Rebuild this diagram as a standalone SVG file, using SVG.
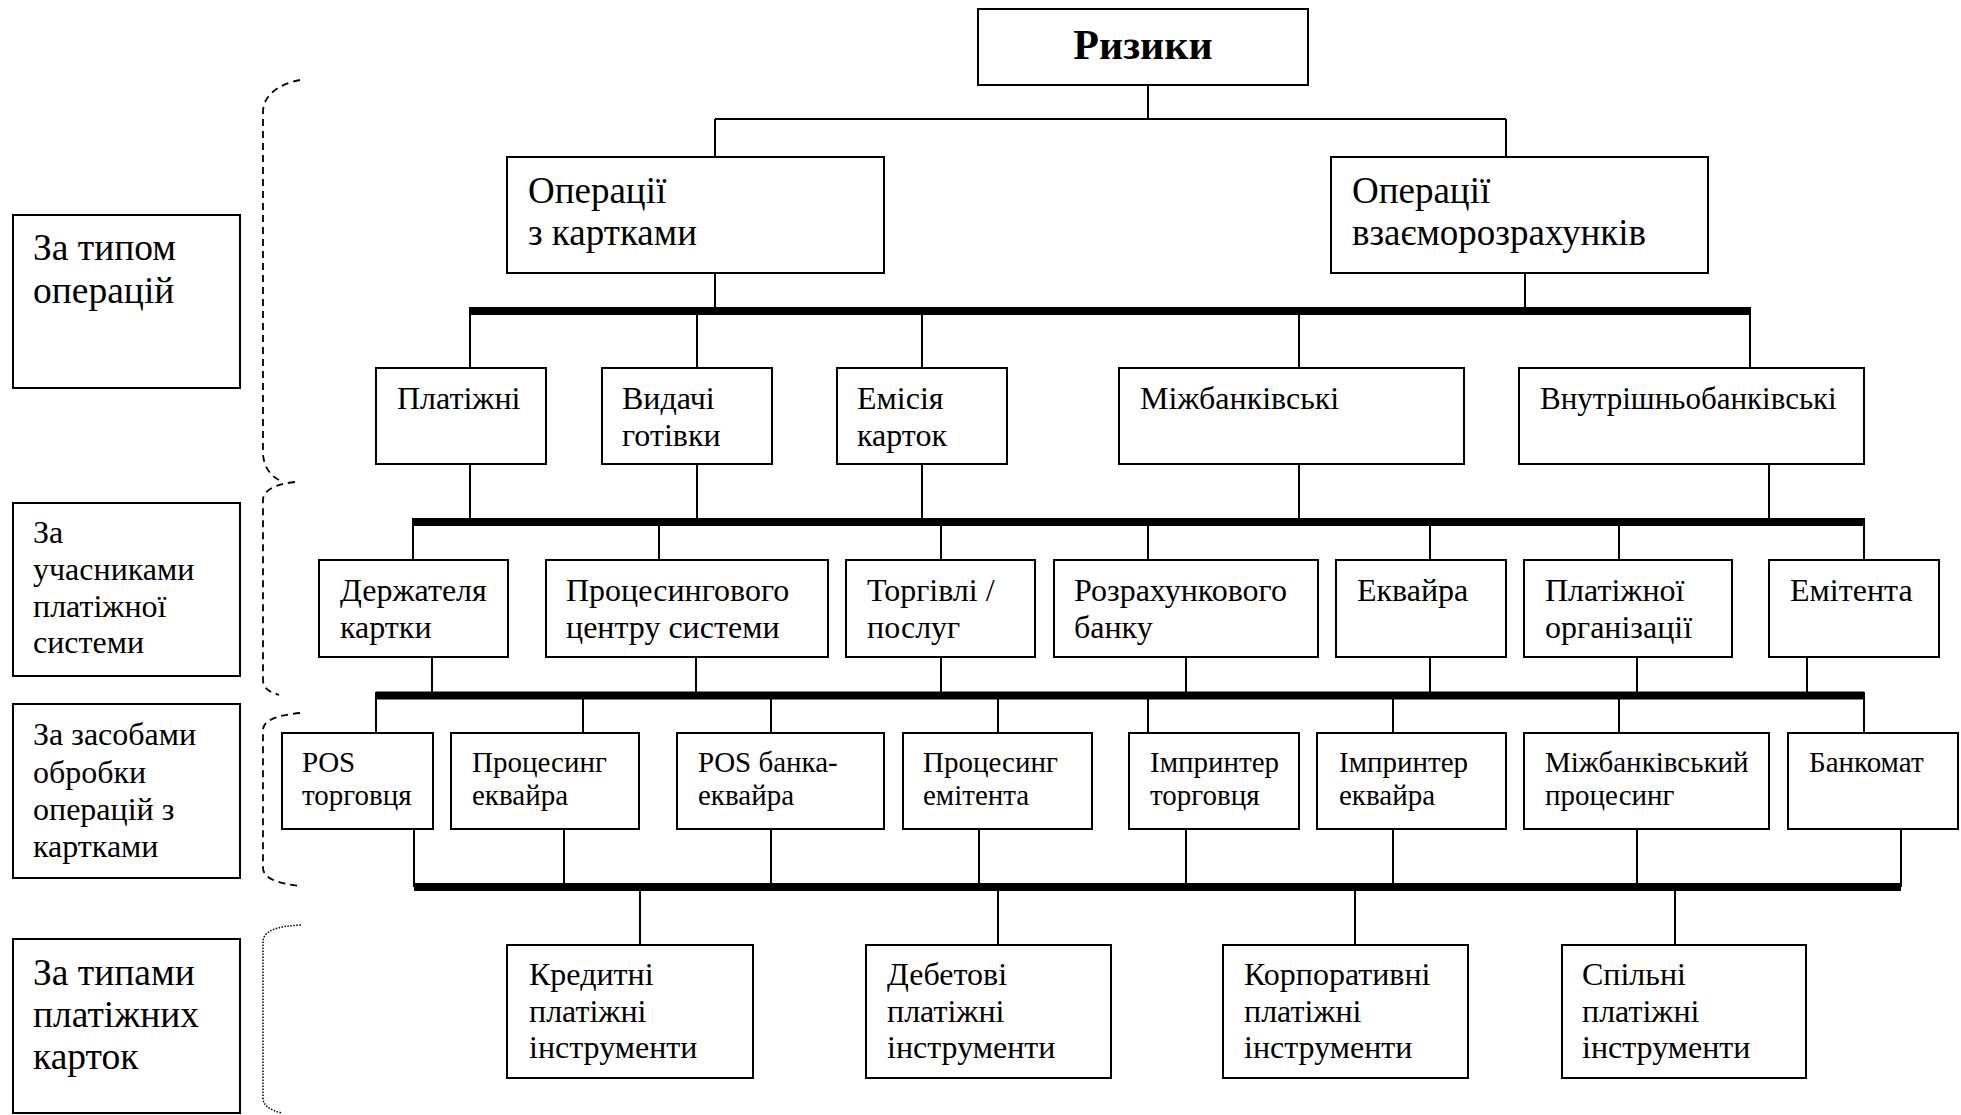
<svg xmlns="http://www.w3.org/2000/svg" width="1961" height="1115" viewBox="0 0 1961 1115">
<style>
text{font-family:"Liberation Serif","Times New Roman",serif;fill:#000}
.box{fill:#fff;stroke:#000;stroke-width:2}
.ln{stroke:#000;stroke-width:2;fill:none}
.bar{stroke:#000;stroke-width:8;fill:none}
.brace{stroke:#000;stroke-width:1.8;fill:none;stroke-dasharray:7 5}
.dot{stroke:#000;stroke-width:1.5;fill:none;stroke-dasharray:1.5 1.5}
.f42{font-size:42px;font-weight:bold}
.f37{font-size:37px}
.f36{font-size:37.5px}
.f32{font-size:32px}
.f29{font-size:29px}
</style>
<rect width="1961" height="1115" fill="#fff"/>
<g id="connectors">
<path class="ln" d="M1148 85V119M715 119H1506M715 119V157M1506 119V157"/>
<path class="ln" d="M715 273V311M1525 273V311"/>
<path class="bar" d="M470 311H1750"/>
<path class="ln" d="M470 307V368M697 311V368M922 311V368M1299 311V368M1750 307V368"/>
<path class="ln" d="M470 464V522M697 464V522M922 464V522M1299 464V522M1769 464V522"/>
<path class="bar" d="M413 522H1864"/>
<path class="ln" d="M413 518V560M659 522V560M941 522V560M1148 522V560M1430 522V560M1619 522V560M1864 518V560"/>
<path class="ln" d="M432 657V695M696 657V695M941 657V695M1186 657V695M1430 657V695M1637 657V695M1807 657V695"/>
<path class="bar" d="M376 695.5H1864"/>
<path class="ln" d="M376 692V733M583 695V733M771 695V733M998 695V733M1148 695V733M1393 695V733M1619 695V733M1864 692V733"/>
<path class="ln" d="M414 829V887M564 829V887M771 829V887M979 829V887M1186 829V887M1393 829V887M1637 829V887M1901 829V887"/>
<path class="bar" d="M414 887H1901"/>
<path class="ln" d="M640 887V945M998 887V945M1355 887V945M1675 887V945"/>
</g>
<g id="braces">
<path class="brace" d="M300 80C278 84 263 96 263 112V452C263 466 270 476 281 481"/>
<path class="brace" d="M295 482C276 484 263 490 263 500V680C263 688 269 692 279 695"/>
<path class="brace" d="M300 713C278 715 263 720 263 730V868C263 878 278 884 301 886"/>
<path class="dot" d="M301 925C279 926 263 930 263 942V1098C263 1106 270 1110 282 1113"/>
</g>
<g id="n-risks"><rect class="box" x="978" y="9" width="330" height="76"/><text class="f42" x="1143" y="59" text-anchor="middle">Ризики</text></g>
<g id="n-opcards"><rect class="box" x="507" y="157" width="377" height="116"/><text class="f37" x="528" y="203">Операції</text><text class="f37" x="528" y="245">з картками</text></g>
<g id="n-opsettle"><rect class="box" x="1331" y="157" width="377" height="116"/><text class="f37" x="1352" y="203">Операції</text><text class="f37" x="1352" y="245">взаєморозрахунків</text></g>
<g id="l-type"><rect class="box" x="13" y="215" width="227" height="173"/><text class="f36" x="33" y="260">За типом</text><text class="f36" x="33" y="303">операцій</text></g>
<g id="l-participants"><rect class="box" x="13" y="503" width="227" height="173"/><text class="f32" x="33" y="543">За</text><text class="f32" x="33" y="580">учасниками</text><text class="f32" x="33" y="617">платіжної</text><text class="f32" x="33" y="653">системи</text></g>
<g id="l-means"><rect class="box" x="13" y="704" width="227" height="174"/><text class="f32" x="33" y="745">За засобами</text><text class="f32" x="33" y="783">обробки</text><text class="f32" x="33" y="820">операцій з</text><text class="f32" x="33" y="857">картками</text></g>
<g id="l-cardtypes"><rect class="box" x="13" y="939" width="227" height="174"/><text class="f36" x="33" y="985">За типами</text><text class="f36" x="33" y="1027">платіжних</text><text class="f36" x="33" y="1069">карток</text></g>
<g id="r1-pay"><rect class="box" x="376" y="368" width="170" height="96"/><text class="f32" x="397" y="409">Платіжні</text></g>
<g id="r1-cash"><rect class="box" x="602" y="368" width="170" height="96"/><text class="f32" x="622" y="409">Видачі</text><text class="f32" x="622" y="446">готівки</text></g>
<g id="r1-emission"><rect class="box" x="837" y="368" width="170" height="96"/><text class="f32" x="857" y="409">Емісія</text><text class="f32" x="857" y="446">карток</text></g>
<g id="r1-interbank"><rect class="box" x="1119" y="368" width="345" height="96"/><text class="f32" x="1140" y="409">Міжбанківські</text></g>
<g id="r1-intrabank"><rect class="box" x="1519" y="368" width="345" height="96"/><text class="f32" x="1540" y="409" style="font-size:31px">Внутрішньобанківські</text></g>
<g id="r2-holder"><rect class="box" x="319" y="560" width="189" height="97"/><text class="f32" x="340" y="601">Держателя</text><text class="f32" x="340" y="638">картки</text></g>
<g id="r2-processing"><rect class="box" x="546" y="560" width="282" height="97"/><text class="f32" x="566" y="601">Процесингового</text><text class="f32" x="566" y="638">центру системи</text></g>
<g id="r2-trade"><rect class="box" x="846" y="560" width="189" height="97"/><text class="f32" x="867" y="601">Торгівлі /</text><text class="f32" x="867" y="638">послуг</text></g>
<g id="r2-settlement"><rect class="box" x="1054" y="560" width="264" height="97"/><text class="f32" x="1074" y="601">Розрахункового</text><text class="f32" x="1074" y="638">банку</text></g>
<g id="r2-acquirer"><rect class="box" x="1336" y="560" width="170" height="97"/><text class="f32" x="1357" y="601">Еквайра</text></g>
<g id="r2-payorg"><rect class="box" x="1524" y="560" width="208" height="97"/><text class="f32" x="1545" y="601">Платіжної</text><text class="f32" x="1545" y="638">організації</text></g>
<g id="r2-issuer"><rect class="box" x="1769" y="560" width="170" height="97"/><text class="f32" x="1790" y="601">Емітента</text></g>
<g id="r3-pos-merchant"><rect class="box" x="282" y="733" width="151" height="96"/><text class="f29" x="302" y="772">POS</text><text class="f29" x="302" y="805">торговця</text></g>
<g id="r3-proc-acq"><rect class="box" x="451" y="733" width="188" height="96"/><text class="f29" x="472" y="772">Процесинг</text><text class="f29" x="472" y="805">еквайра</text></g>
<g id="r3-pos-bank"><rect class="box" x="677" y="733" width="207" height="96"/><text class="f29" x="698" y="772">POS банка-</text><text class="f29" x="698" y="805">еквайра</text></g>
<g id="r3-proc-iss"><rect class="box" x="903" y="733" width="189" height="96"/><text class="f29" x="923" y="772">Процесинг</text><text class="f29" x="923" y="805">емітента</text></g>
<g id="r3-imp-merchant"><rect class="box" x="1129" y="733" width="170" height="96"/><text class="f29" x="1150" y="772">Імпринтер</text><text class="f29" x="1150" y="805">торговця</text></g>
<g id="r3-imp-acq"><rect class="box" x="1317" y="733" width="189" height="96"/><text class="f29" x="1339" y="772">Імпринтер</text><text class="f29" x="1339" y="805">еквайра</text></g>
<g id="r3-interbank-proc"><rect class="box" x="1524" y="733" width="245" height="96"/><text class="f29" x="1545" y="772">Міжбанківський</text><text class="f29" x="1545" y="805">процесинг</text></g>
<g id="r3-atm"><rect class="box" x="1788" y="733" width="170" height="96"/><text class="f29" x="1809" y="772">Банкомат</text></g>
<g id="b-credit"><rect class="box" x="507" y="945" width="246" height="133"/><text class="f32" x="529" y="985">Кредитні</text><text class="f32" x="529" y="1022">платіжні</text><text class="f32" x="529" y="1058">інструменти</text></g>
<g id="b-debit"><rect class="box" x="866" y="945" width="245" height="133"/><text class="f32" x="887" y="985">Дебетові</text><text class="f32" x="887" y="1022">платіжні</text><text class="f32" x="887" y="1058">інструменти</text></g>
<g id="b-corporate"><rect class="box" x="1223" y="945" width="245" height="133"/><text class="f32" x="1244" y="985">Корпоративні</text><text class="f32" x="1244" y="1022">платіжні</text><text class="f32" x="1244" y="1058">інструменти</text></g>
<g id="b-joint"><rect class="box" x="1562" y="945" width="244" height="133"/><text class="f32" x="1582" y="985">Спільні</text><text class="f32" x="1582" y="1022">платіжні</text><text class="f32" x="1582" y="1058">інструменти</text></g>
</svg>
